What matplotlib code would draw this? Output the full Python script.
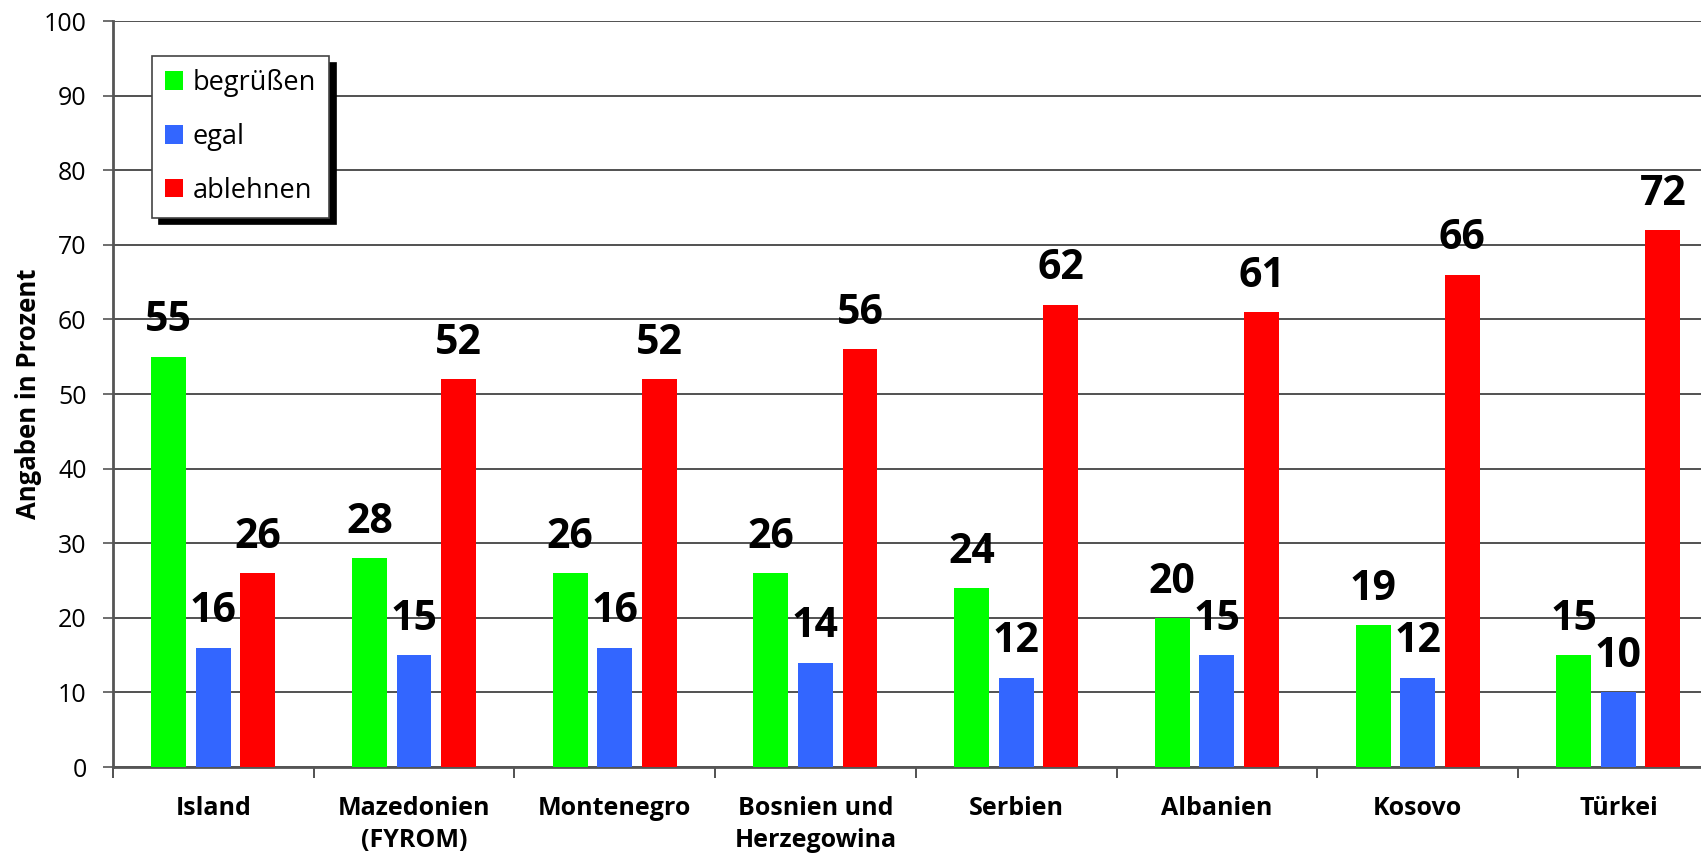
import numpy as np
import matplotlib.pyplot as plt

plt.rcParams['font.family'] = ['Open Sans', 'DejaVu Sans']

laender = ['Island', 'Mazedonien\n(FYROM)', 'Montenegro', 'Bosnien und\nHerzegowina',
           'Serbien', 'Albanien', 'Kosovo', 'Türkei']
begruessen = [55, 28, 26, 26, 24, 20, 19, 15]
egal = [16, 15, 16, 14, 12, 15, 12, 10]
ablehnen = [26, 52, 52, 56, 62, 61, 66, 72]

serien = [('begrüßen', begruessen, '#00ff00'),
          ('egal', egal, '#3366ff'),
          ('ablehnen', ablehnen, '#ff0000')]

fig = plt.figure(figsize=(17.01, 8.58), dpi=100)
# axes run a bit past the right edge of the picture, like in the original
ax = fig.add_axes([0.0664, 0.106, 0.944, 0.8695])

x = np.arange(len(laender))
breite = 0.174
abstand = 0.222

for i, (name, werte, farbe) in enumerate(serien):
    pos = x + (i - 1) * abstand
    bars = ax.bar(pos, werte, breite, color=farbe, label=name, zorder=3)
    for b, v in zip(bars, werte):
        ax.annotate(str(v), (b.get_x() + b.get_width() / 2, v), xytext=(0, 11),
                    textcoords='offset points', ha='center', va='bottom',
                    fontsize=29.5, fontweight='bold', zorder=4)

ax.set_xlim(-0.5, len(laender) - 0.5)
ax.set_ylim(0, 100)
ax.set_yticks(range(0, 101, 10))
ax.tick_params(axis='y', labelsize=18, length=7, width=1.2, color='#555555', pad=12)

# ticks at group borders, labels in the middle
ax.set_xticks(np.arange(0, len(laender) + 1) - 0.5)
ax.set_xticklabels([])
ax.set_xticks(x, minor=True)
ax.set_xticklabels(laender, minor=True, fontsize=18, fontweight='bold', linespacing=1.35)
ax.tick_params(axis='x', which='major', length=8, width=1.2, color='#333333')
ax.tick_params(axis='x', which='minor', length=0, pad=21)

ax.grid(axis='y', color='#333333', linewidth=1.2, zorder=0)
for s in ['top', 'right']:
    ax.spines[s].set_visible(False)
for s in ['left', 'bottom']:
    ax.spines[s].set_color('#555555')
    ax.spines[s].set_linewidth(2)

ax.set_ylabel('Angaben in Prozent', fontsize=18.5, fontweight='bold', labelpad=1.5)

leg = ax.legend(loc='upper left', bbox_to_anchor=(0.0245, 0.953), borderaxespad=0,
                fontsize=19.5, fancybox=False, framealpha=1, edgecolor='#444444',
                handlelength=0.67, handleheight=0.67, handletextpad=0.33,
                labelspacing=0.95, borderpad=0.48,
                shadow={'color': 'black', 'alpha': 1, 'ox': 5, 'oy': -5})
leg.get_frame().set_linewidth(1.2)

fig.savefig('out.png', dpi=100)
